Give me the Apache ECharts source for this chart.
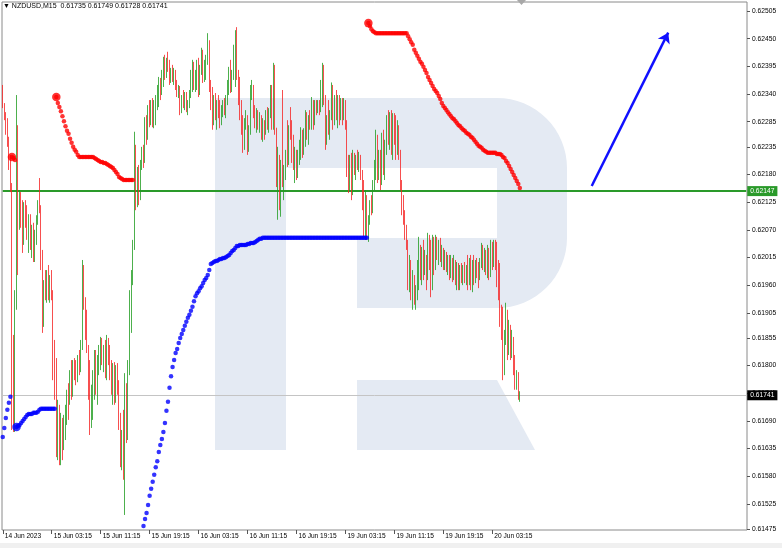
<!DOCTYPE html>
<html><head><meta charset="utf-8">
<script src="https://cdn.jsdelivr.net/npm/echarts@6/dist/echarts.min.js"></script>
<style>html,body{margin:0;padding:0;background:#fff}#c{width:782px;height:548px}</style>
</head><body><div id="c"></div>
<script>
// ---- DATA (prices in points, 1 point = 0.00001) ----
const symbolName = 'NZDUSD,M15';
const firstOpen = 62352;
const closes = [
62318,62298,62278,62249,62209,62159,61841,61682,61930,62269,
62129,62139,62086,62050,62109,62086,62070,62094,62040,62060,
62020,62054,62090,62119,62109,62010,61891,61950,61940,61970,
61950,61960,61940,61791,61742,61642,61722,61622,61692,61652,
61682,61722,61742,61732,61781,61752,61801,61787,61775,61811,
61795,61841,61980,61930,61861,61831,61742,61682,61702,61771,
61811,61761,61801,61827,61841,61811,61831,61791,61841,61821,
61781,61761,61791,61742,61787,61761,61692,61622,61652,61592,
61752,61662,61791,61930,61970,62040,62229,62129,62179,62139,
62199,62225,62209,62278,62259,62308,62288,62318,62292,62304,
62328,62344,62358,62348,62378,62404,62384,62402,62392,62368,
62384,62372,62378,62356,62344,62352,62308,62332,62324,62336,
62312,62322,62338,62372,62392,62358,62378,62398,62348,62388,
62418,62372,62398,62408,62437,62358,62318,62288,62328,62298,
62318,62304,62288,62308,62318,62304,62328,62358,62378,62352,
62378,62418,62447,62378,62338,62308,62278,62239,62284,62292,
62233,62269,62338,62348,62304,62288,62298,62278,62292,62259,
62278,62269,62298,62278,62304,62348,62278,62388,62269,62179,
62209,62129,62189,62169,62189,62219,62205,62269,62259,62219,
62199,62219,62185,62213,62233,62259,62229,62259,62292,62265,
62288,62278,62318,62284,62312,62308,62318,62308,62358,62388,
62328,62249,62288,62273,62298,62348,62288,62328,62304,62318,
62292,62324,62298,62318,62278,62189,62159,62209,62149,62213,
62193,62209,62199,62213,62179,62129,62080,62129,62066,62090,
62119,62109,62159,62199,62249,62179,62209,62169,62249,62199,
62229,62288,62259,62292,62249,62278,62269,62229,62269,62219,
62159,62119,62099,62060,62040,61970,62000,61950,61970,61930,
61950,62000,62030,61990,62020,61990,62006,61980,62050,62010,
61960,62040,62000,62050,62020,62040,62014,62026,62006,62014,
61998,62010,61990,62006,61980,62000,61974,61990,61960,61986,
61974,61990,61970,61994,61970,62006,61960,61990,61974,62000,
61990,61980,62006,62030,62000,62020,61994,62020,61986,62034,
62006,62030,62000,61970,61950,61901,61871,61791,61851,61901,
61841,61871,61831,61851,61801,61767,61781,61735,61741];
const highs = [
62358,62322,62304,62292,62255,62219,62163,61861,61950,62338,
62278,62149,62145,62129,62125,62129,62119,62101,62101,62080,
62084,62070,62099,62129,62173,62119,62030,61970,61990,61990,
62000,61980,61990,61950,61851,61815,61732,61722,61706,61696,
61702,61722,61752,61765,61791,61811,61811,61815,61811,61821,
61831,61851,62010,62000,61936,61911,61841,61811,61762,61791,
61831,61831,61821,61841,61857,61855,61841,61851,61861,61855,
61841,61811,61805,61807,61801,61805,61771,61706,61672,61712,
61785,61765,61811,61950,61990,62050,62265,62239,62195,62199,
62209,62235,62239,62294,62298,62318,62328,62328,62332,62328,
62338,62358,62374,62372,62388,62414,62418,62412,62424,62408,
62392,62398,62392,62388,62368,62358,62356,62338,62348,62344,
62344,62328,62348,62388,62408,62404,62388,62408,62412,62398,
62432,62428,62408,62418,62461,62447,62368,62354,62338,62342,
62328,62338,62328,62318,62328,62332,62338,62368,62394,62408,
62388,62438,62467,62473,62388,62374,62328,62298,62292,62308,
62298,62278,62358,62368,62358,62318,62312,62308,62304,62298,
62292,62288,62308,62314,62312,62358,62358,62402,62398,62273,
62235,62219,62209,62348,62199,62229,62288,62278,62314,62288,
62259,62235,62229,62229,62249,62274,62269,62272,62308,62304,
62298,62308,62334,62328,62328,62328,62328,62328,62368,62402,
62398,62338,62298,62328,62308,62363,62358,62338,62348,62338,
62338,62332,62332,62332,62328,62288,62219,62219,62223,62229,
62223,62219,62229,62225,62219,62189,62169,62149,62139,62099,
62129,62139,62169,62209,62269,62259,62229,62229,62263,62269,
62249,62298,62308,62304,62308,62302,62302,62298,62288,62278,
62229,62169,62139,62109,62080,62050,62020,62010,61990,61980,
61960,62010,62056,62040,62036,62050,62030,62020,62064,62060,
62050,62060,62056,62060,62056,62050,62054,62040,62034,62030,
62026,62020,62020,62020,62014,62020,62010,62006,62004,62000,
62004,62000,62006,62000,62020,62014,62020,62010,62020,62010,
62014,62006,62014,62044,62040,62034,62030,62040,62034,62050,
62046,62050,62050,62046,62010,62004,61921,61917,61871,61925,
61911,61891,61881,61871,61857,61821,61791,61787,61749];
const lows = [
62312,62288,62259,62235,62189,62145,61672,61668,61668,61911,
61980,62070,62074,62024,62040,62074,62050,62024,62030,62014,
62006,62006,62040,62080,62103,61990,61865,61877,61930,61925,
61930,61925,61930,61771,61732,61618,61612,61602,61602,61612,
61632,61652,61682,61692,61722,61732,61738,61771,61761,61767,
61781,61787,61831,61911,61851,61825,61732,61662,61676,61692,
61732,61742,61722,61781,61791,61801,61787,61775,61771,61801,
61771,61742,61722,61722,61726,61742,61672,61598,61592,61573,
61503,61646,61652,61781,61865,61960,62030,62109,62115,62119,
62129,62189,62193,62203,62239,62249,62274,62278,62274,62272,
62278,62308,62314,62328,62338,62354,62368,62372,62384,62358,
62362,62364,62358,62348,62334,62332,62298,62302,62312,62308,
62304,62298,62312,62332,62344,62348,62344,62348,62334,62338,
62378,62362,62364,62368,62398,62344,62308,62269,62278,62288,
62269,62292,62272,62278,62294,62298,62292,62318,62338,62342,
62344,62368,62354,62368,62318,62288,62259,62223,62229,62269,
62219,62225,62259,62328,62292,62272,62263,62269,62263,62249,
62245,62249,62259,62269,62263,62292,62269,62269,62259,62155,
62090,62109,62096,62155,62129,62169,62195,62199,62249,62203,
62189,62163,62169,62173,62199,62209,62213,62219,62235,62249,
62239,62269,62269,62269,62278,62298,62302,62298,62304,62314,
62318,62229,62239,62259,62249,62288,62269,62278,62288,62272,
62278,62288,62278,62288,62269,62175,62143,62149,62129,62139,
62179,62169,62189,62185,62169,62109,62056,62050,62050,62046,
62080,62099,62103,62149,62169,62163,62169,62149,62159,62179,
62169,62219,62239,62229,62219,62209,62239,62209,62219,62209,
62149,62099,62080,62050,62030,61950,61946,61930,61911,61921,
61911,61930,61950,61970,61960,61970,61980,61950,61970,61990,
61936,61950,61980,61990,62010,62000,62006,61996,61990,61990,
61986,61980,61970,61974,61966,61970,61960,61950,61950,61950,
61964,61960,61964,61960,61950,61960,61950,61946,61960,61964,
61974,61954,61970,61994,61990,61986,61980,61974,61970,61976,
61990,61996,61990,61956,61930,61877,61851,61771,61781,61841,
61811,61821,61811,61815,61781,61752,61752,61732,61728];

// Parabolic-style stop dots, each run with its starting bar index
const sarBlueAStart = 0;
const sarBlueA = [61658,61676,61696,61712,61726,61738];
const sarRedAStart = 6;
const sarRedA = [62215,62213,62209];
const sarBlueBStart = 9;
const sarBlueB = [
61678,61680,61682,61686,61690,61694,61698,61702,61704,61704,
61704,61706,61706,61706,61708,61712,61714,61714,61714,61714,
61714,61714,61714,61714,61714,61714];
const sarRedCStart = 35;
const sarRedC = [
62334,62322,62314,62306,62296,62286,62276,62267,62261,62251,
62243,62235,62229,62225,62219,62215,62215,62215,62215,62215,
62215,62215,62215,62215,62215,62213,62211,62209,62207,62205,
62205,62203,62203,62201,62199,62197,62195,62193,62189,62185,
62181,62175,62173,62171,62169,62169,62169,62169,62169,62169,62169];
const sarBlueDStart = 92;
const sarBlueD = [
61481,61495,61507,61523,61541,61555,61569,61583,61598,61610,
61628,61642,61654,61668,61686,61710,61728,61756,61779,61797,
61811,61825,61833,61845,61855,61863,61871,61879,61887,61895,
61901,61909,61917,61928,61938,61944,61948,61954,61958,61964,
61970,61974,61980,61990,62002,62004,62006,62008,62008,62010,
62012,62012,62014,62014,62016,62018,62020,62024,62028,62030,
62034,62038,62038,62040,62040,62040,62040,62040,62042,62042,
62044,62044,62044,62046,62048,62050,62052,62052,62054,62054,
62054,62054,62054,62054,62054,62054,62054,62054,62054,62054,
62054,62054,62054,62054,62054,62054,62054,62054,62054,62054,
62054,62054,62054,62054,62054,62054,62054,62054,62054,62054,
62054,62054,62054,62054,62054,62054,62054,62054,62054,62054,
62054,62054,62054,62054,62054,62054,62054,62054,62054,62054,
62054,62054,62054,62054,62054,62054,62054,62054,62054,62054,
62054,62054,62054,62054,62054,62054,62054];
const sarRedEStart = 239;
const sarRedE = [
62481,62475,62469,62465,62463,62461,62461,62461,62461,62461,
62461,62461,62461,62461,62461,62461,62461,62461,62461,62461,
62461,62461,62461,62461,62461,62461,62455,62449,62443,62438,
62428,62422,62416,62410,62404,62400,62394,62388,62382,62374,
62368,62362,62356,62350,62346,62342,62336,62330,62322,62316,
62312,62308,62304,62300,62296,62292,62290,62286,62282,62278,
62276,62272,62269,62267,62263,62261,62259,62255,62253,62249,
62245,62241,62237,62235,62233,62229,62227,62225,62223,62223,
62223,62223,62223,62223,62221,62221,62221,62219,62215,62213,
62207,62203,62197,62191,62185,62179,62173,62167,62161,62153];
const sarRedSignalBars = [6, 35, 239];
const sarBlueSignalBars = [9];

const levelPrice = 0.62147;
const arrowFrom = [385, 0.62157];
const arrowTo = [435, 0.62462];

const yTickValues = [0.62505,0.62450,0.62395,0.62340,0.62285,0.62235,0.62180,0.62125,0.62070,0.62015,
  0.61960,0.61905,0.61855,0.61800,0.61745,0.61690,0.61635,0.61580,0.61525,0.61475];
const xTickIdx = [0,32,64,96,128,160,192,224,256,288,320];
const xTickLabels = ['14 Jun 2023','15 Jun 03:15','15 Jun 11:15','15 Jun 19:15','16 Jun 03:15',
  '16 Jun 11:15','16 Jun 19:15','19 Jun 03:15','19 Jun 11:15','19 Jun 19:15','20 Jun 03:15'];

// ---- build ----
const P = v => v / 100000;
const nBars = closes.length;
const nSlots = 487;
const MON = ['Jan','Feb','Mar','Apr','May','Jun','Jul','Aug','Sep','Oct','Nov','Dec'];
const categories = [];
let t = Date.UTC(2023, 5, 14, 19, 15);
for (let i = 0; i < nSlots; i++) {
  const d = new Date(t);
  const hh = String(d.getUTCHours()).padStart(2,'0'), mm = String(d.getUTCMinutes()).padStart(2,'0');
  categories.push(d.getUTCDate() + ' ' + MON[d.getUTCMonth()] + ' ' + hh + ':' + mm);
  t += 15 * 60000;
  if (new Date(t).getUTCDay() === 6) t += 2 * 86400000;
}
const candles = closes.map((c, i) => {
  const o = i === 0 ? firstOpen : closes[i - 1];
  return [P(o), P(c), P(lows[i]), P(highs[i])];
});
const sarRed = new Array(nBars).fill('-');
const sarBlue = new Array(nBars).fill('-');
function put(arr, start, vals) { vals.forEach((v, k) => { arr[start + k] = P(v); }); }
put(sarBlue, sarBlueAStart, sarBlueA);
put(sarBlue, sarBlueBStart, sarBlueB);
put(sarBlue, sarBlueDStart, sarBlueD);
put(sarRed, sarRedAStart, sarRedA);
put(sarRed, sarRedCStart, sarRedC);
put(sarRed, sarRedEStart, sarRedE);

const last = nBars - 1;
const header = '\u25BC ' + symbolName + '  ' + [candles[last][0], candles[last][3], candles[last][2], candles[last][1]].map(v => v.toFixed(5)).join(' ');
const lastPrice = candles[last][1];

const xTickSet = new Set(xTickIdx);
const labelFor = {}; xTickIdx.forEach((ix, k) => labelFor[ix] = xTickLabels[k]);

// watermark logo outline (decorative, pixel space)
function arcPts(cx, cy, r, a0, a1, n) {
  const pts = [];
  for (let k = 0; k <= n; k++) { const a = a0 + (a1 - a0) * k / n; pts.push([cx + r * Math.cos(a), cy + r * Math.sin(a)]); }
  return pts;
}
const bowl = [[215,98],[497,98]]
  .concat(arcPts(497,168,70,-Math.PI/2,0,16))
  .concat(arcPts(497,238,70,0,Math.PI/2,16))
  .concat([[357,308],[357,238],[497,238],[497,168],[215,168]]);

const FONT = '"Liberation Sans", Arial, sans-serif';
const WM = '#e4eaf3';
const lvlLabel = (bg) => ({show: true, position: 'end', distance: 1, color: '#fff', backgroundColor: bg, padding: [2,3,1,3], fontSize: 6.7, fontFamily: FONT});

const chart = echarts.init(document.getElementById('c'), null, {renderer: 'canvas'});
chart.setOption({
  animation: false,
  backgroundColor: '#ffffff',
  grid: {left: 2, right: 35, top: 2, bottom: 18, show: true, borderColor: '#8a8a8a', borderWidth: 1, backgroundColor: 'transparent'},
  graphic: [
    {type: 'rect', z: -5, silent: true, shape: {x: 0, y: 543, width: 782, height: 5}, style: {fill: '#f0f0f0'}},
    {type: 'rect', z: -5, silent: true, shape: {x: 215, y: 98, width: 71, height: 352}, style: {fill: WM}},
    {type: 'polygon', z: -5, silent: true, shape: {points: bowl}, style: {fill: WM}},
    {type: 'polygon', z: -5, silent: true, shape: {points: [[357,380],[497,380],[535,450],[357,450]]}, style: {fill: WM}},
    {type: 'polygon', z: 10, silent: true, shape: {points: [[517,0],[526,0],[521.5,5]]}, style: {fill: '#a8a8a8'}},
    {type: 'text', z: 10, silent: true, left: 3, top: 3, style: {text: header, font: '7px ' + FONT, fill: '#000'}}
  ],
  xAxis: {
    type: 'category', data: categories, boundaryGap: true,
    axisLine: {show: false},
    axisTick: {show: true, alignWithLabel: true, interval: (i) => xTickSet.has(i), length: 4, lineStyle: {color: '#555'}},
    axisLabel: {interval: (i) => xTickSet.has(i), formatter: (v, i) => labelFor[i] || '', align: 'left', fontSize: 6.6, fontFamily: FONT, color: '#000', margin: 3, padding: [0,0,0,2]},
    splitLine: {show: false}
  },
  yAxis: {
    type: 'value', position: 'right', min: 0.614731, max: 0.62523, scale: true,
    axisLine: {show: false},
    axisTick: {show: true, customValues: yTickValues, length: 3, lineStyle: {color: '#555'}},
    axisLabel: {customValues: yTickValues, formatter: v => v.toFixed(5), fontSize: 6.7, fontFamily: FONT, color: '#000', margin: 5},
    splitLine: {show: false}
  },
  series: [
    {
      type: 'candlestick', data: candles, barWidth: 1, z: 3,
      itemStyle: {color: '#1f9c1f', color0: '#f52222', borderColor: '#1f9c1f', borderColor0: '#f52222', borderWidth: 0.8}
    },
    {type: 'scatter', data: sarBlue, symbolSize: 4.5, itemStyle: {color: '#0000ff'}, z: 4, silent: true,
      markLine: {silent: true, symbol: ['none', 'arrow'], symbolSize: 10, z: 6,
        lineStyle: {color: '#1010ff', width: 2.5, type: 'solid'}, label: {show: false},
        data: [[{coord: arrowFrom}, {coord: arrowTo}]]}},
    {type: 'scatter', data: sarRed, symbolSize: 4.5, itemStyle: {color: '#ff0000'}, z: 4, silent: true,
      markLine: {
        silent: true, symbol: 'none', z: 2,
        data: [
          [{coord: [0, lastPrice], lineStyle: {color: '#c4c4c4', width: 1, type: 'solid'}, label: lvlLabel('#000')},
           {coord: [nSlots - 1, lastPrice], label: {formatter: lastPrice.toFixed(5)}}],
          [{coord: [0, levelPrice], lineStyle: {color: '#2a9a2a', width: 2, type: 'solid'}, label: lvlLabel('#2a9a2a')},
           {coord: [nSlots - 1, levelPrice], label: {formatter: levelPrice.toFixed(5)}}]
        ]
      }},
    {type: 'scatter', data: sarRedSignalBars.map(i => [i, sarRed[i]]), symbolSize: 8.5, itemStyle: {color: '#ff0000'}, z: 5, silent: true},
    {type: 'scatter', data: sarBlueSignalBars.map(i => [i, sarBlue[i]]), symbolSize: 8.5, itemStyle: {color: '#0000ff'}, z: 5, silent: true}
  ]
});
</script></body></html>
